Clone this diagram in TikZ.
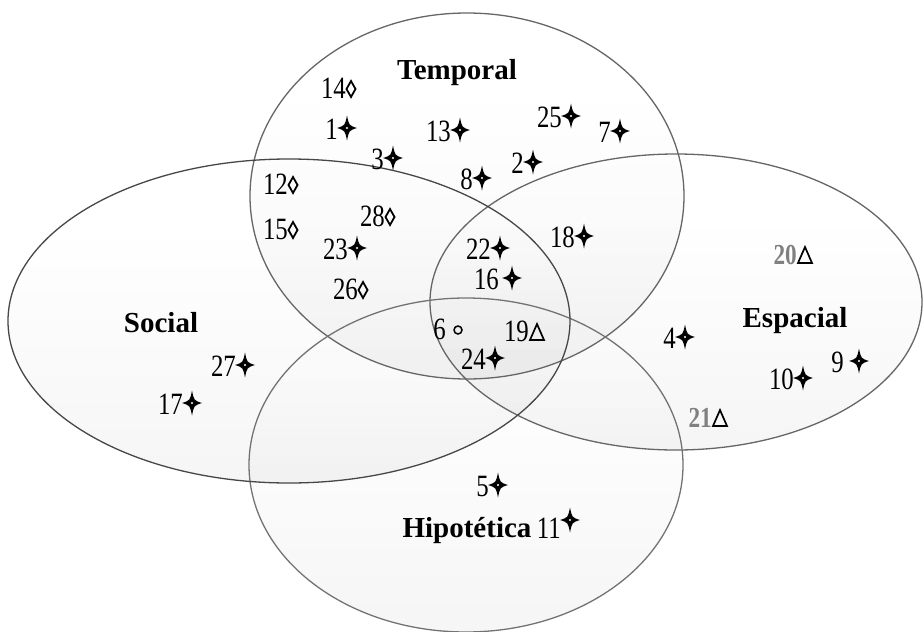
\documentclass[tikz,border=0pt]{standalone}
\usepackage{fontspec}
\setmainfont{Liberation Serif}
\newfontfamily\numfont[FakeStretch=0.8]{Liberation Serif}
\usetikzlibrary{calc}
\tikzset{
  setline/.style={draw=black!#1, line width=1.3pt},
  strip/.style={fill=black, fill opacity=0.004},
  num/.style={font=\numfont\fontsize{31}{30}\selectfont, inner sep=0pt, anchor=base east},
  grnum/.style={num, font=\numfont\bfseries\fontsize{29}{30}\selectfont, text=black!50},
  catlbl/.style={font=\fontsize{29}{30}\selectfont\bfseries, inner sep=0pt},
  sstar/.pic={\fill (0pt,12.5pt) .. controls (2pt,2.5pt) .. (10pt,0pt) .. controls (2pt,-2.5pt) .. (0pt,-12.5pt) .. controls (-2pt,-2.5pt) .. (-10pt,0pt) .. controls (-2pt,2.5pt) .. (0pt,12.5pt) -- cycle;
              \fill[white] (0pt,0pt) circle (1.1pt);},
  sloz/.pic={\draw[line width=1.8pt, line join=miter] (0pt,8pt) -- (4.5pt,0pt) -- (0pt,-8pt) -- (-4.5pt,0pt) -- cycle;},
  stri/.pic={\draw[line width=1.7pt, line join=miter] (0pt,8pt) -- (7pt,-8pt) -- (-7pt,-8pt) -- cycle;},
  scirc/.pic={\draw[line width=1.5pt] (0pt,0pt) circle (4pt);}
}
% vertical gradient inside an ellipse: cx, cy, rx, ry
\newcommand\setshade[4]{%
  \begin{scope}
    \clip (#1,#2) ellipse [x radius=#3pt, y radius=#4pt];
    \foreach \k in {3,...,11} {\fill[strip] (#1-#3, #2-#4+2*#4*\k/12) rectangle (#1+#3, #2+#4+2);}
  \end{scope}}
% name, sx, sy, text, pic, bx, by
\newcommand\vitem[7]{\pic at (#2,#3) {#5}; \node[num] (#1) at (#6,#7) {#4};}
\newcommand\gitem[7]{\pic at (#2,#3) {#5}; \node[grnum] (#1) at (#6,#7) {#4};}
\begin{document}
\begin{tikzpicture}[x=1pt, y=-1pt]
\useasboundingbox (0,0) rectangle (924,632);
\fill[white] (0,0) rectangle (924,632);
% sets
\setshade{676}{302}{246}{148}
\setshade{467}{196}{217}{183}
\setshade{466}{465}{217}{167}
\setshade{289}{321}{281}{162}
\draw[setline=60] (676,302) ellipse [x radius=246pt, y radius=148pt];
\draw[setline=60] (467,196) ellipse [x radius=217pt, y radius=183pt];
\draw[setline=55] (466,465) ellipse [x radius=217pt, y radius=167pt];
\draw[setline=72] (289,321) ellipse [x radius=281pt, y radius=162pt];
% category labels
\node[catlbl] (temporal) at (457,73) {Temporal};
\node[catlbl] (social) at (161,323) {Social};
\node[catlbl] (espacial) at (795,321) {Espacial};
\node[catlbl] (hipotetica) at (467,531) {Hipotética};
% items
\vitem{n14}{351}{89}{14}{sloz}{346}{98}
\vitem{n1}{347}{128}{1}{sstar}{338}{139}
\vitem{n13}{460}{130}{13}{sstar}{451}{141}
\vitem{n3}{393}{158}{3}{sstar}{384}{169}
\vitem{n8}{482}{178}{8}{sstar}{473}{189}
\vitem{n2}{533}{162}{2}{sstar}{524}{173}
\vitem{n25}{571}{116}{25}{sstar}{562}{127}
\vitem{n7}{620}{131}{7}{sstar}{611}{142}
\vitem{n12}{293}{185}{12}{sloz}{288}{194}
\vitem{n15}{293}{230}{15}{sloz}{288}{239}
\vitem{n28}{390}{217}{28}{sloz}{385}{226}
\vitem{n23}{357}{248}{23}{sstar}{348}{259}
\vitem{n26}{363}{290}{26}{sloz}{358}{299}
\vitem{n22}{500}{248}{22}{sstar}{491}{259}
\vitem{n16}{512}{278}{16}{sstar}{499}{289}
\vitem{n18}{584}{236}{18}{sstar}{575}{247}
\vitem{n6}{458}{330}{6}{scirc}{446}{339}
\vitem{n19}{537}{332}{19}{stri}{529}{341}
\vitem{n24}{495}{358}{24}{sstar}{486}{369}
\gitem{n20}{805}{255}{20}{stri}{797}{264}
\vitem{n4}{685}{337}{4}{sstar}{676}{348}
\vitem{n10}{803}{378}{10}{sstar}{794}{389}
\vitem{n9}{859}{361}{9}{sstar}{844}{372}
\gitem{n21}{720}{418}{21}{stri}{712}{427}
\vitem{n27}{245}{365}{27}{sstar}{236}{376}
\vitem{n17}{192}{403}{17}{sstar}{183}{414}
\vitem{n5}{498}{485}{5}{sstar}{489}{496}
\vitem{n11}{570}{520}{11}{sstar}{561}{538}
\end{tikzpicture}
\end{document}
